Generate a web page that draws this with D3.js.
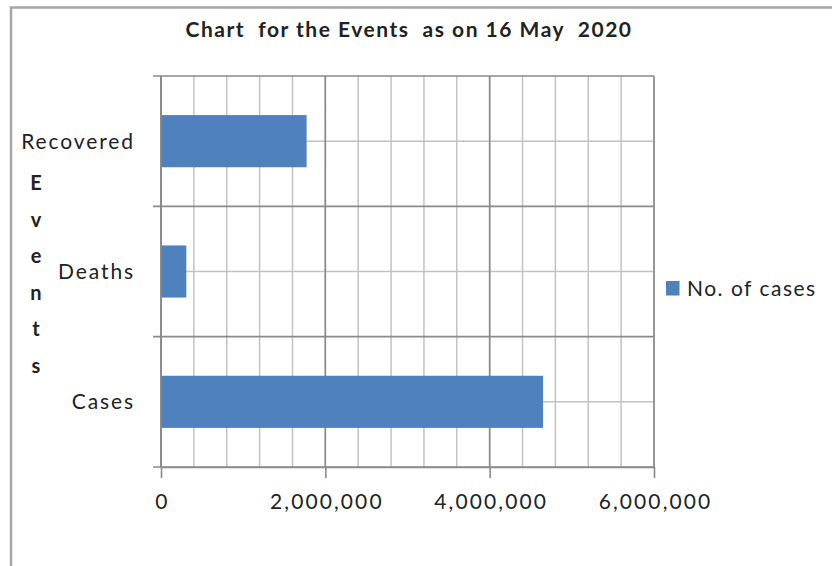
<!DOCTYPE html>
<html>
<head>
<meta charset="utf-8">
<script src="https://cdn.jsdelivr.net/npm/d3@7"></script>
<style>
  body { margin: 0; background: #fff; }
  text { font-family: Lato, "Open Sans", sans-serif; fill: #222; }
</style>
</head>
<body>
<div id="plot"></div>
<script>
// values
const categories = ["Recovered", "Deaths", "Cases"];
const noOfCases = [1772000, 308000, 4650000];
const xTicks = [0, 2000000, 4000000, 6000000];
const minorStep = 400000;
const seriesName = "No. of cases";
const title = "Chart  for the Events  as on 16 May  2020";
const axisTitle = "Events";

const data = categories.map((c, i) => ({ category: c, value: noOfCases[i] }));

const width = 832;
const height = 566;
const plotLeft = 161, plotRight = 654, plotTop = 76, plotBottom = 467;

const svg = d3.select("#plot").append("svg")
  .attr("width", width)
  .attr("height", height);

// chart frame
svg.append("path")
  .attr("d", `M11,${height} V7.5 H${width}`)
  .attr("fill", "none")
  .attr("stroke", "#a6a6a6")
  .attr("stroke-width", 2.5);

const x = d3.scaleLinear()
  .domain([0, d3.max(xTicks)])
  .range([plotLeft, plotRight]);

const y = d3.scaleBand()
  .domain(categories)
  .range([plotTop, plotBottom])
  .paddingInner(0.6)
  .paddingOuter(0.3);

// minor gridlines
const minorTicks = d3.range(0, d3.max(xTicks) + 1, minorStep);
svg.append("g").selectAll("line")
  .data(minorTicks)
  .enter().append("line")
  .attr("x1", d => x(d)).attr("x2", d => x(d))
  .attr("y1", plotTop).attr("y2", plotBottom)
  .attr("stroke", "#c2c2c2")
  .attr("stroke-width", 1.5);

svg.append("g").selectAll("line")
  .data(categories)
  .enter().append("line")
  .attr("x1", plotLeft).attr("x2", plotRight)
  .attr("y1", d => y(d) + y.bandwidth() / 2)
  .attr("y2", d => y(d) + y.bandwidth() / 2)
  .attr("stroke", "#c2c2c2")
  .attr("stroke-width", 1.5);

// major gridlines
svg.append("g").selectAll("line")
  .data(xTicks)
  .enter().append("line")
  .attr("x1", d => x(d)).attr("x2", d => x(d))
  .attr("y1", plotTop).attr("y2", plotBottom)
  .attr("stroke", "#8a8a8a")
  .attr("stroke-width", 1.6);

const step = y.step();
const bounds = d3.range(categories.length + 1).map(i => plotTop + i * step);
svg.append("g").selectAll("line")
  .data(bounds)
  .enter().append("line")
  .attr("x1", plotLeft - 8).attr("x2", plotRight)
  .attr("y1", d => d).attr("y2", d => d)
  .attr("stroke", "#8a8a8a")
  .attr("stroke-width", 1.6);

// bars
svg.append("g").selectAll("rect")
  .data(data)
  .enter().append("rect")
  .attr("x", x(0))
  .attr("y", d => y(d.category))
  .attr("width", d => x(d.value) - x(0))
  .attr("height", y.bandwidth())
  .attr("fill", "#4f81bd");

// x axis
const xAxis = d3.axisBottom(x)
  .tickValues(xTicks)
  .tickFormat(d3.format(","))
  .tickSize(11)
  .tickSizeOuter(0)
  .tickPadding(16);

const gx = svg.append("g")
  .attr("transform", `translate(0, ${plotBottom})`)
  .call(xAxis);
gx.select(".domain").attr("stroke", "#8a8a8a").attr("stroke-width", 1.6);
gx.selectAll(".tick line").attr("stroke", "#8a8a8a").attr("stroke-width", 1.6);
gx.selectAll(".tick text")
  .attr("font-family", "Lato, sans-serif")
  .attr("font-size", 21)
  .attr("letter-spacing", 2.1)
  .attr("dx", 1)
  .attr("fill", "#222");

// y axis line
svg.append("line")
  .attr("x1", plotLeft).attr("x2", plotLeft)
  .attr("y1", plotTop).attr("y2", plotBottom)
  .attr("stroke", "#8a8a8a")
  .attr("stroke-width", 1.6);

// category labels
svg.append("g").selectAll("text")
  .data(categories)
  .enter().append("text")
  .attr("x", 135)
  .attr("y", d => y(d) + y.bandwidth() / 2)
  .attr("dy", "0.35em")
  .attr("text-anchor", "end")
  .attr("font-size", 21)
  .attr("letter-spacing", 1.9)
  .text(d => d);

// axis title, one letter per row
svg.append("g").selectAll("text")
  .data(axisTitle.split(""))
  .enter().append("text")
  .attr("x", 36)
  .attr("y", (d, i) => 183 + i * 36.5)
  .attr("dy", "0.35em")
  .attr("text-anchor", "middle")
  .attr("font-size", 20)
  .attr("font-weight", "bold")
  .text(d => d);

// title
svg.append("text")
  .attr("x", 409)
  .attr("y", 37)
  .attr("text-anchor", "middle")
  .attr("font-size", 21)
  .attr("font-weight", "bold")
  .attr("letter-spacing", 1.5)
  .style("white-space", "pre")
  .text(title);

// legend
const legend = svg.append("g")
  .attr("transform", "translate(666, 281)");
legend.append("rect")
  .attr("width", 13.5)
  .attr("height", 14.5)
  .attr("fill", "#4f81bd");
legend.append("text")
  .attr("x", 21)
  .attr("y", 7.5)
  .attr("dy", "0.35em")
  .attr("font-size", 21)
  .attr("letter-spacing", 1.5)
  .text(seriesName);
</script>
</body>
</html>
